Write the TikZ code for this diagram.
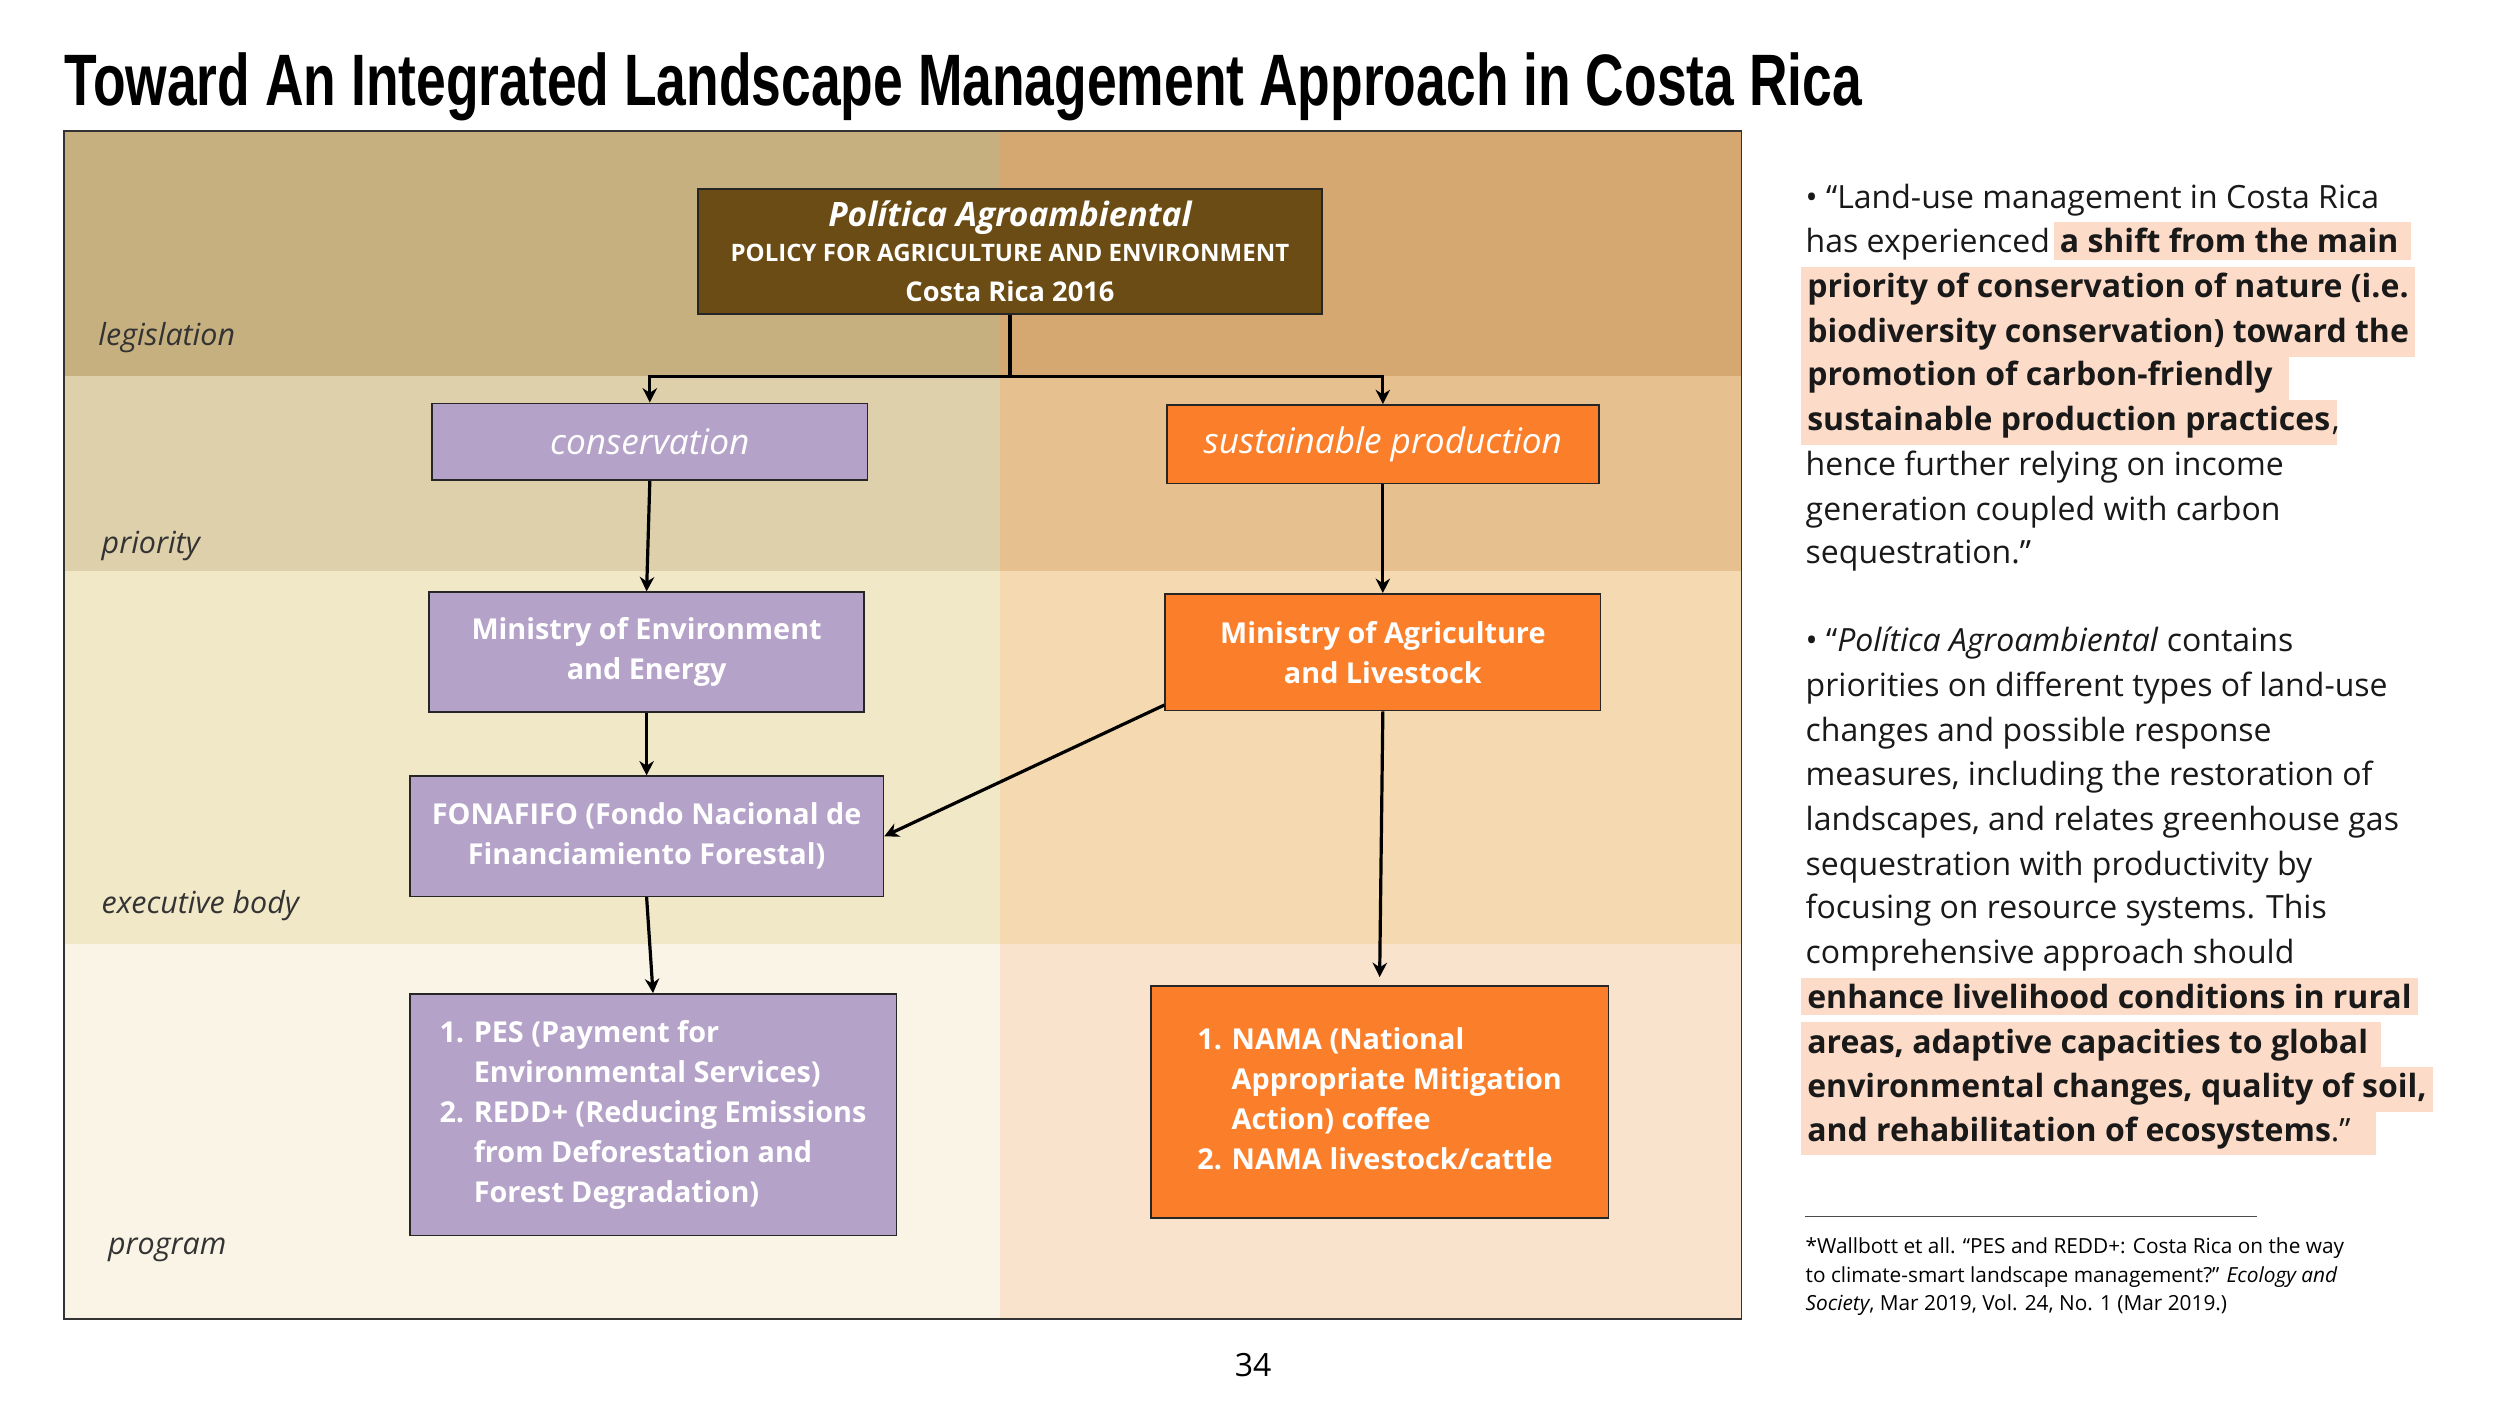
\documentclass[tikz,border=0pt]{standalone}
\usepackage{fontspec}
\setmainfont{Open Sans}
\newfontfamily\titlefont{Liberation Sans}
\usetikzlibrary{arrows.meta,calc}
\definecolor{lt}{HTML}{C7B07F}\definecolor{rt}{HTML}{D4A870}
\definecolor{lp}{HTML}{DDD0AB}\definecolor{rp}{HTML}{E6C08E}
\definecolor{le}{HTML}{F1E8C8}\definecolor{re}{HTML}{F5D9B0}
\definecolor{lg}{HTML}{FAF4E6}\definecolor{rg}{HTML}{F9E3CC}
\definecolor{brn}{HTML}{6B4C14}\definecolor{pur}{HTML}{B4A2C8}
\definecolor{org}{HTML}{FB7F2A}\definecolor{hlc}{HTML}{FCDCC8}
\definecolor{lbl}{HTML}{333333}
\newcommand\hl[1]{\setlength\fboxsep{4pt}\hspace*{-3pt}\colorbox{hlc}{#1}\hspace*{-3pt}}
\tikzset{
 box/.style={draw=black!85, line width=1pt, text=white, align=center, inner sep=0pt,
   font=\fontsize{18}{25}\selectfont\bfseries},
 purbox/.style={box, fill=pur},
 orgbox/.style={box, fill=org},
 conn/.style={line width=2pt, black},
 arr/.style={conn, -{Stealth[length=9pt,width=9pt]}},
 rowlbl/.style={anchor=base west, text=lbl, font=\fontsize{19}{22}\selectfont\itshape},
 txt/.style={anchor=base west, inner sep=0pt, font=\fontsize{20}{24}\selectfont, text=black!90},
 fn/.style={anchor=base west, inner sep=0pt, font=\fontsize{13}{16}\selectfont}
}
\begin{document}
\begin{tikzpicture}[x=1pt,y=-1pt]
\useasboundingbox (0,0) rectangle (1562,878);
\fill[white] (0,0) rectangle (1562,878);
% title
\node[anchor=base west, inner sep=0pt] (title) at (40,66)
 {\resizebox{1123pt}{33pt}{\titlefont\bfseries Toward An Integrated Landscape Management Approach in Costa Rica}};
% quadrants
\fill[lt] (40,82) rectangle (625,235); \fill[rt] (625,82) rectangle (1088,235);
\fill[lp] (40,235) rectangle (625,357); \fill[rp] (625,235) rectangle (1088,357);
\fill[le] (40,357) rectangle (625,590); \fill[re] (625,357) rectangle (1088,590);
\fill[lg] (40,590) rectangle (625,824); \fill[rg] (625,590) rectangle (1088,824);
\draw[black!80, line width=1pt] (40,82) rectangle (1088,824);
% row labels
\node[rowlbl] (l1) at (58,216) {legislation};
\node[rowlbl] (l2) at (60,346) {priority};
\node[rowlbl] (l3) at (60,571) {executive body};
\node[rowlbl] (l4) at (64,784) {program};
% boxes
\node[box, fill=brn, minimum width=390pt, minimum height=78pt] (top) at (631,157)
 {{\fontsize{21}{26}\selectfont\bfseries\itshape Política Agroambiental}\\[-3pt]
  {\fontsize{15}{21}\selectfont POLICY FOR AGRICULTURE AND ENVIRONMENT}\\
  {\fontsize{17}{21}\selectfont Costa Rica 2016}};
\node[purbox, minimum width=272pt, minimum height=48pt, font=\fontsize{22}{26}\selectfont\itshape] (cons) at (406,276) {conservation};
\node[orgbox, minimum width=270pt, minimum height=49pt, font=\fontsize{22}{26}\selectfont\itshape] (sust) at (864,277.5) {sustainable production};
\node[purbox, minimum width=272pt, minimum height=75pt] (minenv) at (404,407.5) {Ministry of Environment\\and Energy};
\node[orgbox, minimum width=272pt, minimum height=73pt] (minag) at (864,407.5) {Ministry of Agriculture\\and Livestock};
\node[purbox, minimum width=296pt, minimum height=75pt] (fona) at (404,522.5) {FONAFIFO (Fondo Nacional de\\Financiamiento Forestal)};
\node[purbox, minimum width=304pt, minimum height=151pt] (pes) at (408,696.5)
 {\begin{tabular}{@{}l@{\hspace{6pt}}l@{}}1.&PES (Payment for\\ &Environmental Services)\\2.&REDD+ (Reducing Emissions\\ &from Deforestation and\\ &Forest Degradation)\end{tabular}};
\node[orgbox, minimum width=286pt, minimum height=145pt] (nama) at (862,688.5)
 {\begin{tabular}{@{}l@{\hspace{6pt}}l@{}}1.&NAMA (National\\ &Appropriate Mitigation\\ &Action) coffee\\2.&NAMA livestock/cattle\end{tabular}};
% connectors
\coordinate (jy) at (0,235);
\draw[conn] (top.south) -- (top.south |- jy);
\draw[conn] ([xshift=-1pt]cons.north |- jy) -- ([xshift=1pt]sust.north |- jy);
\draw[arr] (cons.north |- jy) -- (cons.north);
\draw[arr] (sust.north |- jy) -- (sust.north);
\draw[arr] (cons.south) -- (minenv.north);
\draw[arr] (sust.south) -- (minag.north);
\draw[arr] (minenv.south) -- (fona.north);
\draw[arr] (fona.south) -- (pes.north);
\draw[arr] ($(minag.south west)+(0,-4)$) -- (fona.east);
\draw[arr] (minag.south) -- ($(nama.north)+(0,-5)$);
% right text
\node[txt] (t1) at (1128,130) {• “Land-use management in Costa Rica};
\node[txt] (t2) at (1128,158) {has experienced \hl{\textbf{a shift from the main}\hspace{4pt}}};
\node[txt] (t3) at (1128,186) {\hl{\textbf{priority of conservation of nature (i.e.}}};
\node[txt] (t4) at (1128,214) {\hl{\textbf{biodiversity conservation) toward the}}};
\node[txt] (t5) at (1128,241) {\hl{\textbf{promotion of carbon-friendly}\hspace{6pt}}};
\node[txt] (t6) at (1128,269) {\hl{\textbf{sustainable production practices}},};
\node[txt] (t7) at (1128,297) {hence further relying on income};
\node[txt] (t8) at (1128,325) {generation coupled with carbon};
\node[txt] (t9) at (1128,352) {sequestration.”};
\node[txt] (t10) at (1128,407) {• “\textit{Política Agroambiental} contains};
\node[txt] (t11) at (1128,435) {priorities on different types of land-use};
\node[txt] (t12) at (1128,463) {changes and possible response};
\node[txt] (t13) at (1128,491) {measures, including the restoration of};
\node[txt] (t14) at (1128,519) {landscapes, and relates greenhouse gas};
\node[txt] (t15) at (1128,547) {sequestration with productivity by};
\node[txt] (t16) at (1128,574) {focusing on resource systems. This};
\node[txt] (t17) at (1128,602) {comprehensive approach should};
\node[txt] (t18) at (1128,630) {\hl{\textbf{enhance livelihood conditions in rural}}};
\node[txt] (t19) at (1128,658) {\hl{\textbf{areas, adaptive capacities to global}\hspace{4pt}}};
\node[txt] (t20) at (1128,686) {\hl{\textbf{environmental changes, quality of soil,}}};
\node[txt] (t21) at (1128,713) {\hl{\textbf{and rehabilitation of ecosystems}.”\hspace{12pt}}};
% footnote
\draw[black!70, line width=0.8pt] (1128,760) -- (1410,760);
\node[fn] (f1) at (1128,783) {*Wallbott et all. “PES and REDD+: Costa Rica on the way};
\node[fn] (f2) at (1128,801) {to climate-smart landscape management?” \textit{Ecology and}};
\node[fn] (f3) at (1128,819) {\textit{Society}, Mar 2019, Vol. 24, No. 1 (Mar 2019.)};
\node[anchor=base, inner sep=0pt, font=\fontsize{20}{24}\selectfont] (pg) at (783,860) {34};
\end{tikzpicture}
\end{document}
